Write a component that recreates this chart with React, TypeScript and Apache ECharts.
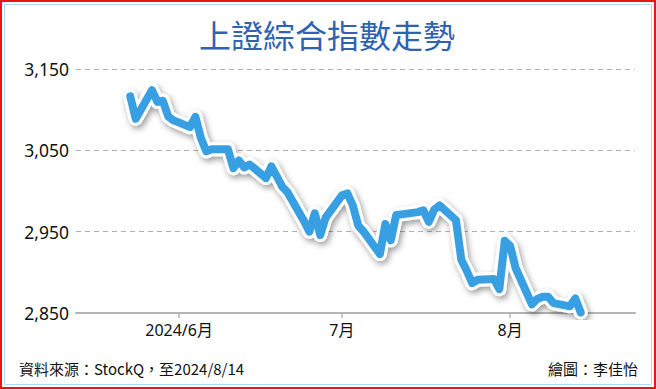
import React, { useEffect, useRef } from "react";
import * as echarts from "echarts";

const TITLE = "上證綜合指數走勢";
const SOURCE = "資料來源：StockQ，至2024/8/14";
const CREDIT = "繪圖：李佳怡";

const dates = [
  "2024-05-23", "2024-05-24", "2024-05-27", "2024-05-28", "2024-05-29", "2024-05-30", "2024-05-31",
  "2024-06-03", "2024-06-04", "2024-06-05", "2024-06-06", "2024-06-07", "2024-06-10", "2024-06-11",
  "2024-06-12", "2024-06-13", "2024-06-14", "2024-06-17", "2024-06-18", "2024-06-19", "2024-06-20",
  "2024-06-21", "2024-06-24", "2024-06-25", "2024-06-26", "2024-06-27", "2024-06-28",
  "2024-07-01", "2024-07-02", "2024-07-03", "2024-07-04", "2024-07-05", "2024-07-08", "2024-07-09",
  "2024-07-10", "2024-07-11", "2024-07-12", "2024-07-15", "2024-07-16", "2024-07-17", "2024-07-18",
  "2024-07-19", "2024-07-22", "2024-07-23", "2024-07-24", "2024-07-25", "2024-07-26", "2024-07-29",
  "2024-07-30", "2024-07-31",
  "2024-08-01", "2024-08-02", "2024-08-05", "2024-08-06", "2024-08-07", "2024-08-08", "2024-08-09",
  "2024-08-12", "2024-08-13", "2024-08-14",
];

const values = [
  3116.39, 3088.87, 3124.04, 3109.57, 3111.02, 3091.68, 3086.81,
  3078.49, 3091.2, 3065.4, 3048.79, 3051.28, 3051.28, 3028.05,
  3037.47, 3028.92, 3032.63, 3015.89, 3030.25, 3018.05, 3005.44,
  2998.14, 2963.1, 2950.0, 2972.53, 2945.85, 2967.4,
  2994.73, 2997.01, 2982.38, 2957.57, 2949.93, 2922.45, 2959.37,
  2939.36, 2970.39, 2971.3, 2974.01, 2976.3, 2962.16, 2977.13,
  2982.31, 2964.22, 2915.37, 2901.95, 2886.74, 2890.9, 2891.85,
  2879.3, 2938.75,
  2932.39, 2905.34, 2860.7, 2867.28, 2869.9, 2869.83, 2862.19,
  2858.2, 2867.95, 2850.65,
];

const xTickDates = ["2024-06-01", "2024-07-01", "2024-08-01"];
const xTickLabels = ["2024/6月", "7月", "8月"];
const yTicks = [2850, 2950, 3050, 3150];
const xRange = ["2024-05-13", "2024-08-24"];
const yRange = [2850, 3150];

function ts(s: string): number {
  const [y, m, d] = s.split("-").map(Number);
  return Date.UTC(y, m - 1, d);
}

const FONT = "'Noto Sans', 'Noto Sans CJK TC', sans-serif";
const CJK = "'Noto Sans CJK TC', 'Noto Sans', sans-serif";

export default function App() {
  const ref = useRef<HTMLDivElement>(null);

  useEffect(() => {
    document.body.style.margin = "0";
    const chart = echarts.init(ref.current!, null, { renderer: "svg" });
    const seriesData = dates.map((d, i) => [ts(d), values[i]]);
    const tickTs = xTickDates.map(ts);

    chart.setOption({
      animation: false,
      backgroundColor: "#ffffff",
      grid: { left: 76, right: 21, top: 69, bottom: 76, containLabel: false },
      xAxis: {
        type: "value",
        min: ts(xRange[0]),
        max: ts(xRange[1]),
        axisLine: { show: true, lineStyle: { color: "#b4b4b4", width: 2 } },
        axisTick: {
          show: true,
          length: 5,
          customValues: tickTs,
          lineStyle: { color: "#b4b4b4", width: 1.5 },
        },
        axisLabel: {
          customValues: tickTs,
          margin: 9,
          color: "#111",
          fontSize: 16,
          fontFamily: FONT,
          formatter: (v: number) => {
            const idx = tickTs.findIndex((t) => Math.abs(t - v) < 3600000);
            return idx >= 0 ? xTickLabels[idx] : "";
          },
        },
        splitLine: { show: false },
      },
      yAxis: {
        type: "value",
        min: yRange[0],
        max: yRange[1],
        axisLine: { show: false },
        axisTick: { show: false, customValues: yTicks },
        axisLabel: {
          customValues: yTicks,
          margin: 7,
          color: "#111",
          fontSize: 17.5,
          fontFamily: FONT,
          formatter: (v: number) => v.toLocaleString("en-US"),
        },
        splitLine: {
          show: true,
          lineStyle: { color: "#b0b0b0", width: 1, type: [5, 4] },
        },
      },
      series: [
        {
          type: "line",
          data: seriesData,
          symbol: "none",
          silent: true,
          z: 2,
          lineStyle: {
            color: "#ffffff",
            width: 14,
            join: "round",
            cap: "round",
            shadowColor: "rgba(0,0,0,0.4)",
            shadowBlur: 6,
            shadowOffsetX: 2,
            shadowOffsetY: 3,
          },
        },
        {
          type: "line",
          data: seriesData,
          symbol: "none",
          silent: true,
          z: 3,
          lineStyle: {
            color: "#38a0e2",
            width: 8,
            join: "round",
            cap: "round",
          },
        },
      ],
      graphic: [
        {
          type: "rect",
          shape: { x: 1, y: 1, width: 654, height: 387 },
          style: { fill: "none", stroke: "#e8141c", lineWidth: 2 },
          silent: true,
          z: 100,
        },
        {
          type: "rect",
          shape: { x: 4.5, y: 4.5, width: 647, height: 380 },
          style: { fill: "none", stroke: "#b9d8f2", lineWidth: 1 },
          silent: true,
          z: 100,
        },
        {
          type: "text",
          x: 327,
          y: 34,
          style: {
            text: TITLE,
            fill: "#2f63b2",
            fontSize: 32,
            fontFamily: CJK,
            fontWeight: "normal",
            align: "center",
            verticalAlign: "middle",
          },
          z: 100,
        },
        {
          type: "text",
          x: 19,
          y: 368,
          style: {
            text: SOURCE,
            fill: "#111",
            fontSize: 15,
            fontFamily: CJK,
            align: "left",
            verticalAlign: "middle",
          },
          z: 100,
        },
        {
          type: "text",
          x: 638,
          y: 368,
          style: {
            text: CREDIT,
            fill: "#111",
            fontSize: 15,
            fontFamily: CJK,
            align: "right",
            verticalAlign: "middle",
          },
          z: 100,
        },
      ],
    });

    return () => chart.dispose();
  }, []);

  return (
    <div
      ref={ref}
      style={{ position: "absolute", left: 0, top: 0, width: 656, height: 389 }}
    />
  );
}
